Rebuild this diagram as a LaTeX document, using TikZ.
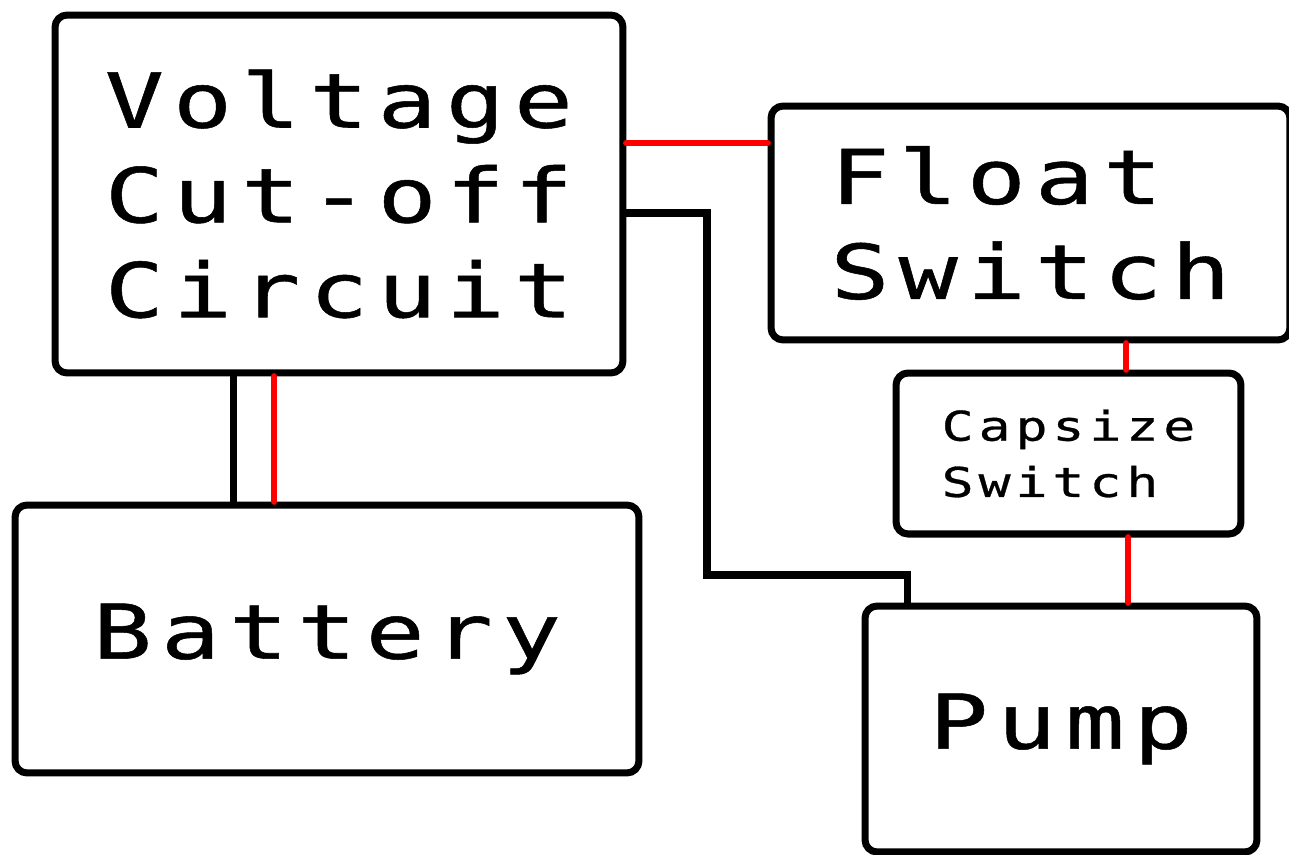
\documentclass[tikz,border=0pt]{standalone}
\usepackage{fontspec}
\usetikzlibrary{positioning,calc}
\newfontfamily\partfont[LetterSpace=12,FakeStretch=1.3,FakeBold=0.7]{DejaVu Sans Mono}
\tikzset{
  partbox/.style={draw=black,line width=4pt,rounded corners=2.4mm,fill=white,inner sep=0pt,align=left},
  bigtext/.style={font=\partfont\fontsize{43}{54}\selectfont},
  smalltext/.style={font=\partfont\fontsize{23.3}{32}\selectfont},
  redwire/.style={draw=red,line width=3.8pt,line cap=round},
  blackwire/.style={draw=black,line width=4pt}
}
\begin{document}
\begin{tikzpicture}[x=0.02cm,y=-0.02cm]
\useasboundingbox (0,0) rectangle (1289,855);
\fill[white] (0,0) rectangle (1289,855);
\node[partbox,bigtext,minimum width=11.36cm,minimum height=7.16cm] (cutoff) at (339,194) {Voltage\\Cut-off\\Circuit};
\node[partbox,bigtext,minimum width=10.38cm,minimum height=4.68cm] (float) at (1030.5,223) {Float\\Switch};
\node[partbox,smalltext,minimum width=6.9cm,minimum height=3.22cm] (capsize) at (1068.5,453.5) {Capsize\\Switch};
\node[partbox,bigtext,minimum width=12.48cm,minimum height=5.36cm] (battery) at (327,639) {Battery};
\node[partbox,bigtext,minimum width=7.84cm,minimum height=4.92cm] (pump) at (1061,729) {Pump};
\coordinate (bend) at (707,575);
% wiring
\draw[redwire] ([yshift=1.02cm]cutoff.east) -- ([yshift=1.02cm]cutoff.east -| float.west);
\draw[blackwire] ([yshift=-0.38cm]cutoff.east) -| (bend) -| ([xshift=-3.08cm]pump.north);
\draw[blackwire] ([xshift=-2.12cm]cutoff.south) -- ([xshift=-2.12cm]cutoff.south |- battery.north);
\draw[redwire] ([xshift=-1.3cm]cutoff.south) -- ([xshift=-1.3cm]cutoff.south |- battery.north);
\draw[redwire] ([xshift=1.91cm]float.south) -- ([xshift=1.91cm]float.south |- capsize.north);
\draw[redwire] ([xshift=1.19cm]capsize.south) -- ([xshift=1.19cm]capsize.south |- pump.north);
\end{tikzpicture}
\end{document}
